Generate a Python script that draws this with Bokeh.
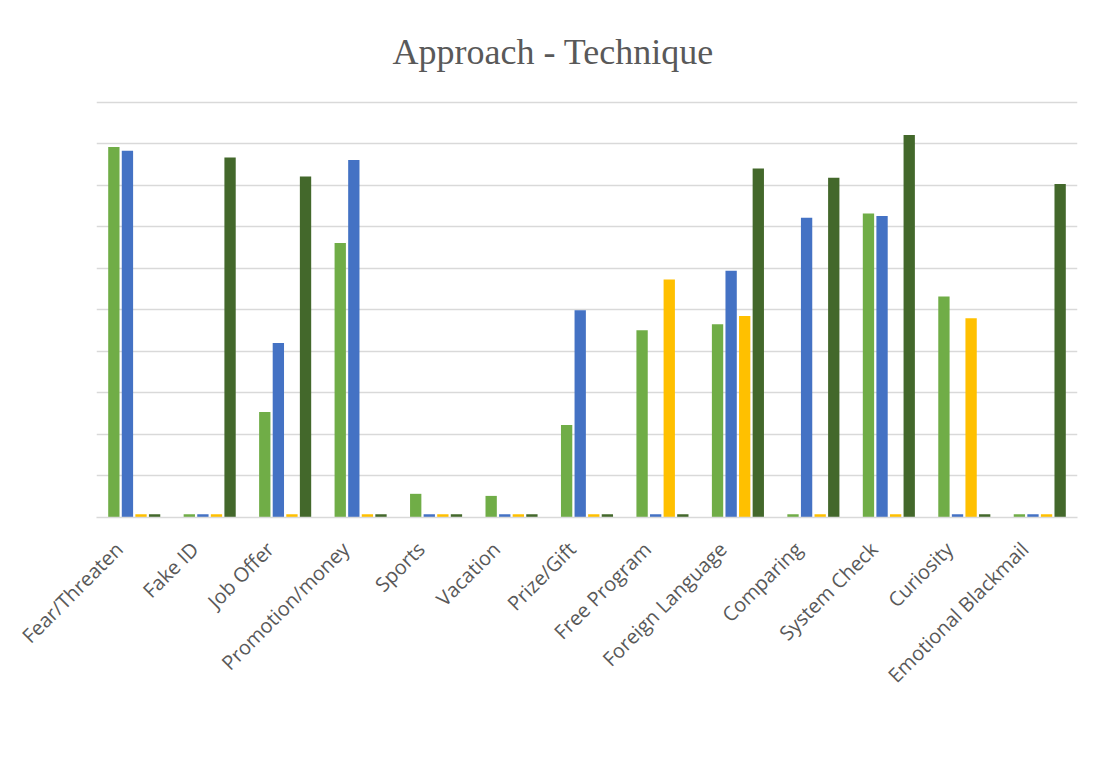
import math
from bokeh.plotting import figure
from bokeh.models import (ColumnDataSource, Range1d, FixedTicker, Legend, LegendItem,
                          LinearAxis)
from bokeh.transform import dodge
from bokeh.embed import file_html
from bokeh.resources import INLINE

categories = ["Fear/Threaten", "Fake ID", "Job Offer", "Promotion/money", "Sports",
              "Vacation", "Prize/Gift", "Free Program", "Foreign Language",
              "Comparing", "System Check", "Curiosity", "Emotional Blackmail"]
phishing = [8.92, 0.08, 2.54, 6.61, 0.57, 0.52, 2.23, 4.51, 4.65, 0.08, 7.32, 5.32, 0.08]
vishing = [8.83, 0.08, 4.20, 8.61, 0.08, 0.08, 4.99, 0.08, 5.94, 7.22, 7.26, 0.08, 0.08]
baiting = [0.08, 0.08, 0.08, 0.08, 0.08, 0.08, 0.08, 5.73, 4.85, 0.08, 0.08, 4.80, 0.08]
contacting = [0.08, 8.67, 8.21, 0.08, 0.08, 0.08, 0.08, 0.08, 8.40, 8.18, 9.21, 0.08, 8.03]
series_names = ["Phishing", "Vishing", "Baiting", "Contacting"]
series_colors = ["#70AD47", "#4472C4", "#FFC000", "#43682B"]
grid_ticks = list(range(0, 11))

n = len(categories)
centers = [i + 0.5 for i in range(n)]
src = ColumnDataSource(dict(cats=categories, xc=centers, Phishing=phishing, Vishing=vishing,
                            Baiting=baiting, Contacting=contacting))

p = figure(x_range=Range1d(0, n), y_range=Range1d(0, 10.04),
           frame_width=981, frame_height=417,
           output_backend="svg", toolbar_location=None, x_axis_location=None,
           min_border_left=96, min_border_right=28, min_border_top=100, min_border_bottom=250,
           title="Approach - Technique")
p.title.text_font = "Liberation Serif"
p.title.text_font_size = "36px"
p.title.text_font_style = "normal"
p.title.text_color = "#595959"
p.title.align = "left"
p.title.offset = 296
p.title.standoff = 57

p.yaxis.visible = False
p.xgrid.visible = False
p.ygrid.ticker = FixedTicker(ticks=grid_ticks)
p.ygrid.grid_line_color = "#d9d9d9"
p.ygrid.grid_line_width = 1.5
p.outline_line_color = None

# category label axis (slightly shifted left, as in the reference)
p.extra_x_ranges = {"lab": Range1d(0.2, n + 0.2)}
xaxis = LinearAxis(x_range_name="lab", ticker=FixedTicker(ticks=centers),
                   major_label_overrides={t: c for t, c in zip(centers, categories)})
xaxis.axis_line_color = "#d9d9d9"
xaxis.axis_line_width = 1.5
xaxis.major_tick_line_color = None
xaxis.minor_tick_line_color = None
xaxis.major_label_orientation = math.pi / 4
xaxis.major_label_text_font = "Open Sans"
xaxis.major_label_text_font_size = "20px"
xaxis.major_label_text_color = "#595959"
xaxis.major_label_standoff = 22
p.add_layout(xaxis, "below")

offsets = [-0.27, -0.09, 0.09, 0.27]
items = []
for name, col, off in zip(series_names, series_colors, offsets):
    r = p.vbar(x=dodge("xc", off), top=name, width=0.15, source=src,
               fill_color=col, line_color=None)
    items.append(LegendItem(label=name, renderers=[r]))

legend = Legend(items=items, orientation="horizontal", location=(229, 40),
                border_line_color=None, background_fill_alpha=0,
                label_text_font="Open Sans", label_text_font_size="20px",
                label_text_color="#595959", glyph_width=13, glyph_height=13,
                spacing=25, label_standoff=6, padding=0, margin=0)
p.add_layout(legend, "below")

open("out.html", "w").write(file_html(p, INLINE))
